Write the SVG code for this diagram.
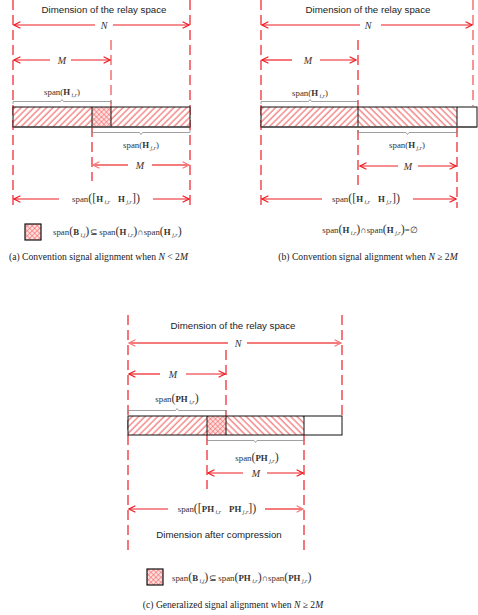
<svg xmlns="http://www.w3.org/2000/svg" width="478" height="615" viewBox="0 0 478 615">
<style>
.dash{stroke:#ee1c24;stroke-width:1.2;stroke-dasharray:10,5;fill:none}
.dashp{stroke:#f47b7b;stroke-width:1.6;stroke-dasharray:10,5;fill:none}
.arr{stroke:#ee1c24;stroke-width:1.2;fill:none;marker-end:url(#ah)}
.arrp{stroke:#f47b7b;stroke-width:1.8;fill:none;marker-end:url(#ahp)}
.brace{stroke:#888;stroke-width:0.8;fill:none}
.bar{stroke:#111;stroke-width:1;}
.title{font-family:"Liberation Sans",Arial,sans-serif;font-size:9.7px;fill:#222}
.lbl{font-family:"Liberation Serif","Times New Roman",serif;font-size:8.8px;fill:#333}
.var{font-family:"Liberation Serif","Times New Roman",serif;font-size:10px;font-style:italic;fill:#333}
.cap{font-family:"Liberation Serif","Times New Roman",serif;font-size:9.6px;fill:#222}
.b{font-weight:bold}
.sub{font-size:6px;font-style:italic}
.big{font-size:12px}
</style>
<defs>
<marker id="ah" viewBox="0 0 10 10" refX="9" refY="5" markerWidth="8" markerHeight="8" markerUnits="userSpaceOnUse" orient="auto"><path d="M1,1 L9,5 L1,9" fill="none" stroke="#ee1c24" stroke-width="1.4"/></marker>
<marker id="ahp" viewBox="0 0 10 10" refX="9" refY="5" markerWidth="8" markerHeight="8" markerUnits="userSpaceOnUse" orient="auto"><path d="M1,1 L9,5 L1,9" fill="none" stroke="#f47b7b" stroke-width="1.6"/></marker>
<pattern id="hf" width="4.5" height="4.5" patternUnits="userSpaceOnUse" patternTransform="rotate(45)"><rect width="4.5" height="4.5" fill="#fff"/><line x1="1" y1="0" x2="1" y2="4.5" stroke="#ee4040" stroke-width="0.9"/></pattern>
<pattern id="hb" width="4.5" height="4.5" patternUnits="userSpaceOnUse" patternTransform="rotate(-45)"><rect width="4.5" height="4.5" fill="#fff"/><line x1="1" y1="0" x2="1" y2="4.5" stroke="#ee4040" stroke-width="0.9"/></pattern>
<pattern id="hx" width="3.5" height="3.5" patternUnits="userSpaceOnUse" patternTransform="rotate(45)"><rect width="3.5" height="3.5" fill="#fdd"/><line x1="0" y1="0" x2="0" y2="3.5" stroke="#f05a5a" stroke-width="1"/><line x1="0" y1="0" x2="3.5" y2="0" stroke="#f05a5a" stroke-width="1"/></pattern>
</defs>
<rect width="478" height="615" fill="#fff"/>

<!-- Panel (a) -->
<g id="panel-a">
  <g id="a-guides">
    <line class="dash" x1="13" y1="0" x2="13" y2="208"/>
    <line class="dash" x1="190" y1="0" x2="190" y2="208"/>
    <line class="dashp" x1="111" y1="40" x2="111" y2="107"/>
    <line class="dash" x1="92" y1="127" x2="92" y2="181"/>
  </g>
  <text class="title" x="104" y="13" text-anchor="middle">Dimension of the relay space</text>
  <g id="a-connectors">
    <line class="arr" x1="95" y1="25" x2="14" y2="25"/>
    <line class="arr" x1="113" y1="25" x2="189" y2="25"/>
    <line class="arr" x1="50" y1="60" x2="14" y2="60"/>
    <line class="arr" x1="71" y1="60" x2="110" y2="60"/>
    <line class="arrp" x1="128" y1="165" x2="93" y2="165"/>
    <line class="arrp" x1="152" y1="165" x2="189" y2="165"/>
    <line class="arr" x1="59" y1="199" x2="14" y2="199"/>
    <line class="arr" x1="153" y1="199" x2="189" y2="199"/>
    <path class="brace" d="M13,104 L13,101.5 L60.5,101.5 L62,99.5 L63.5,101.5 L111,101.5 L111,104"/>
    <path class="brace" d="M92,130 L92,132.5 L139.5,132.5 L141,134.5 L142.5,132.5 L190,132.5 L190,130"/>
  </g>
  <text class="var" x="104" y="28.5" text-anchor="middle">N</text>
  <text class="var" x="62" y="63.5" text-anchor="middle">M</text>
  <text class="var" x="140" y="168.5" text-anchor="middle">M</text>
  <text class="lbl" x="62" y="95" text-anchor="middle">span(<tspan class="b">H</tspan><tspan class="sub" dy="1.5"> i,r</tspan><tspan dy="-1.5">)</tspan></text>
  <text class="lbl" x="141" y="148" text-anchor="middle">span(<tspan class="b">H</tspan><tspan class="sub" dy="1.5"> j,r</tspan><tspan dy="-1.5">)</tspan></text>
  <text class="lbl" x="106" y="202" text-anchor="middle">span<tspan class="big">([</tspan><tspan class="b">H</tspan><tspan class="sub" dy="1.5"> i,r</tspan><tspan class="b" dy="-1.5" dx="8">H</tspan><tspan class="sub" dy="1.5"> j,r</tspan><tspan class="big" dy="-1.5">])</tspan></text>
  <g id="a-bar">
    <rect id="a-seg1" x="13" y="107" width="79" height="20" fill="url(#hf)"/>
    <rect id="a-seg2" x="92" y="107" width="19" height="20" fill="url(#hx)"/>
    <rect id="a-seg3" x="111" y="107" width="79" height="20" fill="url(#hf)"/>
    <rect class="bar" x="13" y="107" width="177" height="20" fill="none"/>
    <line class="bar" x1="92" y1="107" x2="92" y2="127"/>
    <line class="bar" x1="111" y1="107" x2="111" y2="127"/>
    <line x1="13" y1="127" x2="190" y2="127" stroke="#555" stroke-width="1.6"/>
  </g>
  <g id="a-legend">
    <rect x="25" y="224" width="16" height="16" fill="url(#hx)" stroke="#111" stroke-width="1.2"/>
    <text class="lbl" x="53" y="235">span<tspan class="big">(</tspan><tspan class="b">B</tspan><tspan class="sub" dy="1.5"> i,j</tspan><tspan class="big" dy="-1.5">)</tspan><tspan dx="1">⊆</tspan><tspan dx="1">span</tspan><tspan class="big">(</tspan><tspan class="b">H</tspan><tspan class="sub" dy="1.5"> i,r</tspan><tspan class="big" dy="-1.5">)</tspan>∩span<tspan class="big">(</tspan><tspan class="b">H</tspan><tspan class="sub" dy="1.5"> j,r</tspan><tspan class="big" dy="-1.5">)</tspan></text>
  </g>
  <text class="cap" x="9" y="260">(a) Convention signal alignment when <tspan font-style="italic">N</tspan> &lt; 2<tspan font-style="italic">M</tspan></text>
</g>

<!-- Panel (b) -->
<g id="panel-b">
  <g id="b-guides">
    <line class="dash" x1="261" y1="0" x2="261" y2="208"/>
    <line class="dashp" x1="473" y1="0" x2="473" y2="106"/>
    <line class="dash" x1="358" y1="40" x2="358" y2="186"/>
    <line class="dash" x1="457" y1="127" x2="457" y2="208"/>
  </g>
  <text class="title" x="368" y="13" text-anchor="middle">Dimension of the relay space</text>
  <g id="b-connectors">
    <line class="arr" x1="360" y1="25" x2="262" y2="25"/>
    <line class="arr" x1="381" y1="25" x2="472" y2="25"/>
    <line class="arr" x1="292" y1="60" x2="262" y2="60"/>
    <line class="arr" x1="320" y1="60" x2="356" y2="60"/>
    <line class="arr" x1="398" y1="166" x2="360" y2="166"/>
    <line class="arr" x1="418" y1="166" x2="456" y2="166"/>
    <line class="arr" x1="322" y1="199" x2="262" y2="199"/>
    <line class="arr" x1="413" y1="199" x2="456" y2="199"/>
    <path class="brace" d="M261,104 L261,101.5 L308.5,101.5 L310,99.5 L311.5,101.5 L358,101.5 L358,104"/>
    <path class="brace" d="M358,130 L358,132.5 L406,132.5 L407.5,134.5 L409,132.5 L457,132.5 L457,130"/>
  </g>
  <text class="var" x="368" y="28.5" text-anchor="middle">N</text>
  <text class="var" x="308" y="63.5" text-anchor="middle">M</text>
  <text class="var" x="408" y="169.5" text-anchor="middle">M</text>
  <text class="lbl" x="310" y="96" text-anchor="middle">span(<tspan class="b">H</tspan><tspan class="sub" dy="1.5"> i,r</tspan><tspan dy="-1.5">)</tspan></text>
  <text class="lbl" x="407" y="148" text-anchor="middle">span(<tspan class="b">H</tspan><tspan class="sub" dy="1.5"> j,r</tspan><tspan dy="-1.5">)</tspan></text>
  <text class="lbl" x="366" y="202" text-anchor="middle">span<tspan class="big">([</tspan><tspan class="b">H</tspan><tspan class="sub" dy="1.5"> i,r</tspan><tspan class="b" dy="-1.5" dx="8">H</tspan><tspan class="sub" dy="1.5"> j,r</tspan><tspan class="big" dy="-1.5">])</tspan></text>
  <g id="b-bar">
    <rect id="b-seg1" x="261" y="107" width="97" height="20" fill="url(#hf)"/>
    <rect id="b-seg2" x="358" y="107" width="99" height="20" fill="url(#hb)"/>
    <rect id="b-seg3" x="457" y="107" width="20" height="20" fill="#fff"/>
    <rect class="bar" x="261" y="107" width="216" height="20" fill="none"/>
    <line class="bar" x1="358" y1="107" x2="358" y2="127"/>
    <line class="bar" x1="457" y1="107" x2="457" y2="127"/>
    <line x1="261" y1="127" x2="477" y2="127" stroke="#555" stroke-width="1.6"/>
  </g>
  <text class="lbl" x="370" y="233" text-anchor="middle">span<tspan class="big">(</tspan><tspan class="b">H</tspan><tspan class="sub" dy="1.5"> i,r</tspan><tspan class="big" dy="-1.5">)</tspan>∩span<tspan class="big">(</tspan><tspan class="b">H</tspan><tspan class="sub" dy="1.5"> j,r</tspan><tspan class="big" dy="-1.5">)</tspan>=∅</text>
  <text class="cap" x="368" y="260" text-anchor="middle">(b) Convention signal alignment when <tspan font-style="italic">N</tspan> ≥ 2<tspan font-style="italic">M</tspan></text>
</g>

<!-- Panel (c) -->
<g id="panel-c">
  <g id="c-guides">
    <line class="dash" x1="128" y1="315" x2="128" y2="553"/>
    <line class="dash" x1="342" y1="315" x2="342" y2="416"/>
    <line class="dash" x1="226" y1="350" x2="226" y2="416"/>
    <line class="dash" x1="207" y1="435" x2="207" y2="489"/>
    <line class="dash" x1="304" y1="435" x2="304" y2="553"/>
  </g>
  <text class="title" x="233" y="329" text-anchor="middle">Dimension of the relay space</text>
  <g id="c-connectors">
    <line class="arrp" x1="228" y1="343" x2="129" y2="343"/>
    <line class="arrp" x1="247" y1="343" x2="341" y2="343"/>
    <line class="arr" x1="160" y1="374" x2="129" y2="374"/>
    <line class="arr" x1="186" y1="374" x2="225" y2="374"/>
    <line class="arr" x1="243" y1="473" x2="208" y2="473"/>
    <line class="arr" x1="267" y1="473" x2="303" y2="473"/>
    <line class="arr" x1="168" y1="509" x2="129" y2="509"/>
    <line class="arrp" x1="265" y1="509" x2="303" y2="509"/>
    <path class="brace" d="M128,413 L128,410.5 L175.5,410.5 L177,408.5 L178.5,410.5 L226,410.5 L226,413"/>
    <path class="brace" d="M207,438 L207,440.5 L254,440.5 L255.5,442.5 L257,440.5 L304,440.5 L304,438"/>
  </g>
  <text class="var" x="238" y="346.5" text-anchor="middle">N</text>
  <text class="var" x="173" y="377.5" text-anchor="middle">M</text>
  <text class="var" x="256" y="476.5" text-anchor="middle">M</text>
  <text class="lbl" x="177" y="402" text-anchor="middle">span<tspan class="big">(</tspan><tspan class="b">PH</tspan><tspan class="sub" dy="1.5"> i,r</tspan><tspan class="big" dy="-1.5">)</tspan></text>
  <text class="lbl" x="257" y="461" text-anchor="middle">span<tspan class="big">(</tspan><tspan class="b">PH</tspan><tspan class="sub" dy="1.5"> j,r</tspan><tspan class="big" dy="-1.5">)</tspan></text>
  <text class="lbl" x="217" y="512" text-anchor="middle">span<tspan class="big">([</tspan><tspan class="b">PH</tspan><tspan class="sub" dy="1.5"> i,r</tspan><tspan class="b" dy="-1.5" dx="8">PH</tspan><tspan class="sub" dy="1.5"> j,r</tspan><tspan class="big" dy="-1.5">])</tspan></text>
  <text class="title" x="219" y="538" text-anchor="middle">Dimension after compression</text>
  <g id="c-bar">
    <rect id="c-seg1" x="128" y="416" width="79" height="19" fill="url(#hf)"/>
    <rect id="c-seg2" x="207" y="416" width="19" height="19" fill="url(#hx)"/>
    <rect id="c-seg3" x="226" y="416" width="78" height="19" fill="url(#hb)"/>
    <rect id="c-seg4" x="304" y="416" width="38" height="19" fill="#fff"/>
    <rect class="bar" x="128" y="416" width="214" height="19" fill="none"/>
    <line class="bar" x1="207" y1="416" x2="207" y2="435"/>
    <line class="bar" x1="226" y1="416" x2="226" y2="435"/>
    <line class="bar" x1="304" y1="416" x2="304" y2="435"/>
  </g>
  <g id="c-legend">
    <rect x="147" y="569" width="16" height="16" fill="url(#hx)" stroke="#111" stroke-width="1.2"/>
    <text class="lbl" x="172" y="581">span<tspan class="big">(</tspan><tspan class="b">B</tspan><tspan class="sub" dy="1.5"> i,j</tspan><tspan class="big" dy="-1.5">)</tspan><tspan dx="1">⊆</tspan><tspan dx="1">span</tspan><tspan class="big">(</tspan><tspan class="b">PH</tspan><tspan class="sub" dy="1.5"> i,r</tspan><tspan class="big" dy="-1.5">)</tspan>∩span<tspan class="big">(</tspan><tspan class="b">PH</tspan><tspan class="sub" dy="1.5"> j,r</tspan><tspan class="big" dy="-1.5">)</tspan></text>
  </g>
  <text class="cap" x="233" y="608" text-anchor="middle">(c) Generalized signal alignment when <tspan font-style="italic">N</tspan> ≥ 2<tspan font-style="italic">M</tspan></text>
</g>
</svg>
